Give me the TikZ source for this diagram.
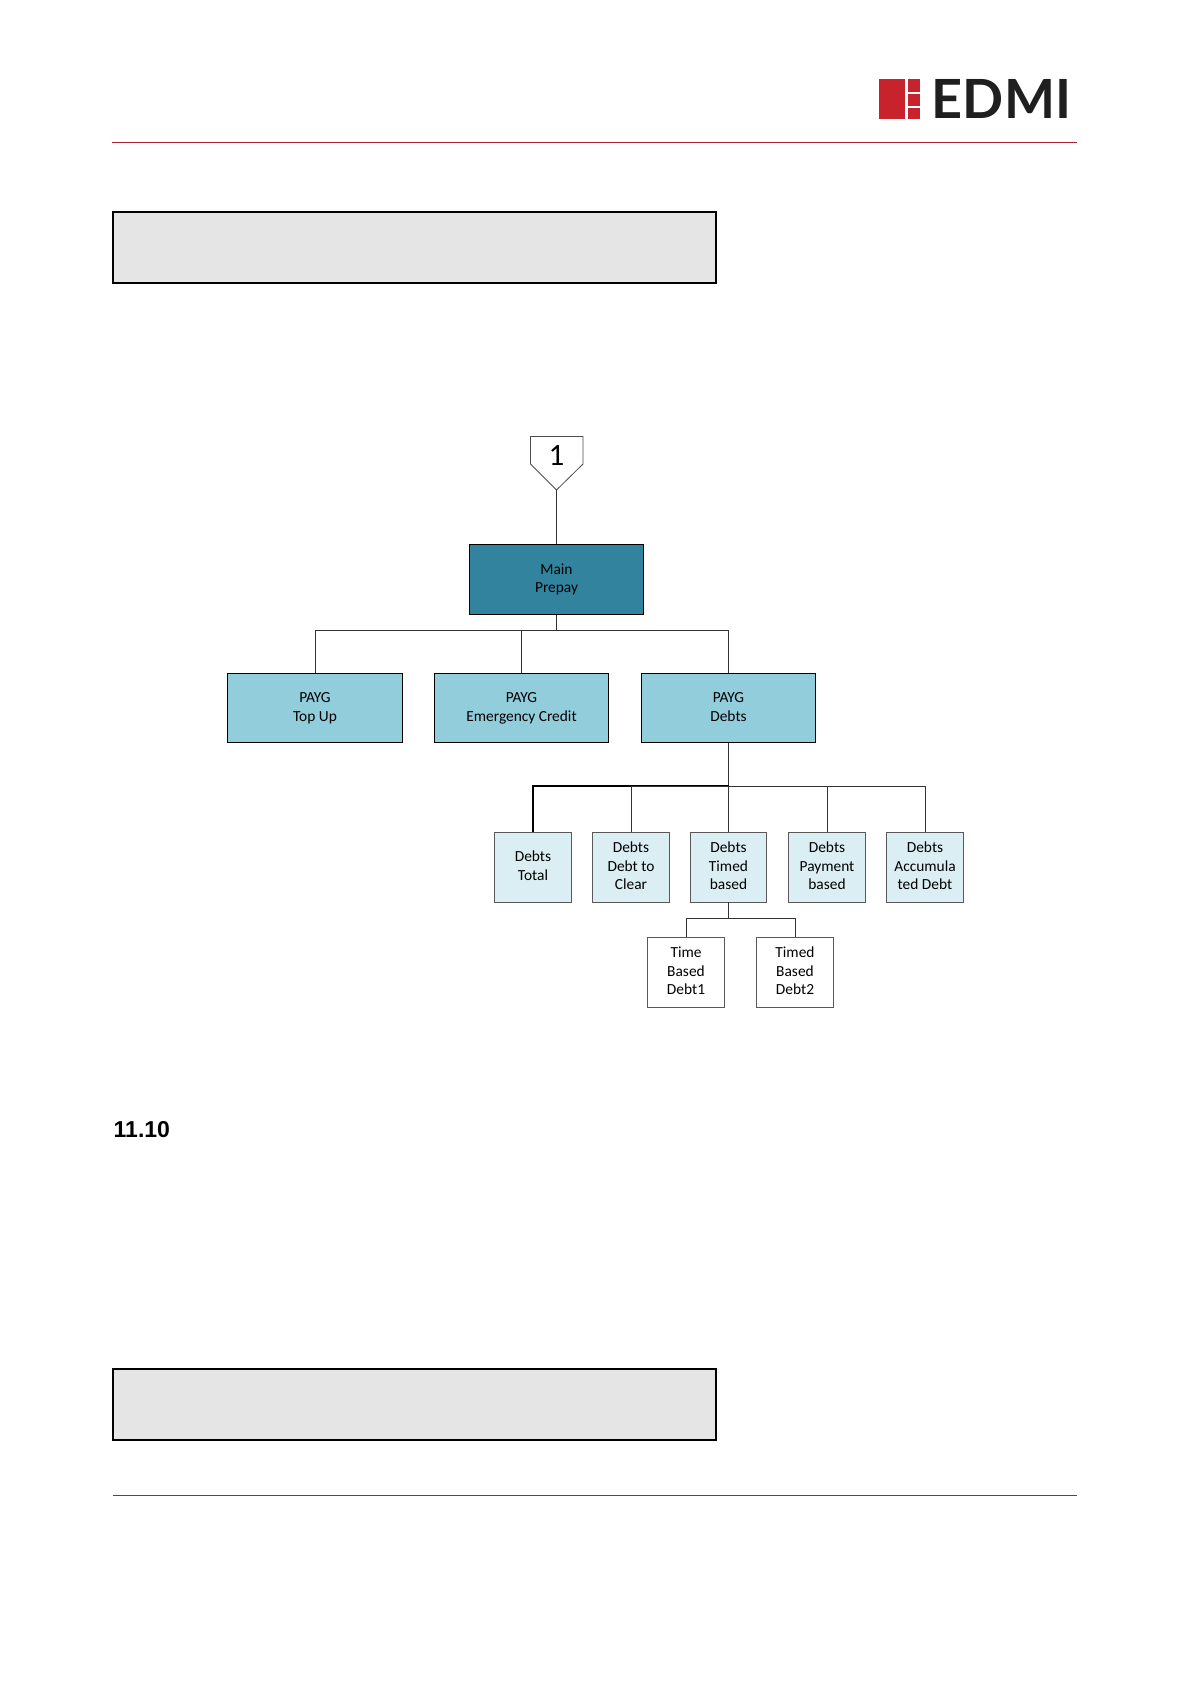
\documentclass[tikz,border=0pt]{standalone}
\usepackage{fontspec}
\setmainfont{Carlito}
\newfontfamily\logofont{Lato}
\newfontfamily\headfont{Liberation Sans}
\definecolor{mainblue}{HTML}{31839E}
\definecolor{paygblue}{HTML}{92CDDC}
\definecolor{debtblue}{HTML}{DAEEF3}
\definecolor{notegray}{HTML}{E5E5E5}
\definecolor{logored}{HTML}{C8232C}
\definecolor{rulered}{HTML}{A3242C}
\tikzset{
    boxtext/.style={inner sep=0pt, align=center, font=\fontsize{15.4}{18.8}\selectfont, execute at begin node=\rule{0pt}{15pt}, execute at end node=\vphantom{p}},
    bigbox/.style={boxtext, draw=black, line width=0.8pt, minimum width=174.5pt, minimum height=69.5pt},
    smallbox/.style={boxtext, draw=black!65, line width=0.9pt, minimum width=76.5pt, minimum height=70pt},
    notebox/.style={draw=black, fill=notegray, line width=1.1pt, minimum width=603pt, minimum height=71pt, inner sep=0pt},
    link/.style={draw=black!80, line width=1pt}
}
\begin{document}
\begin{tikzpicture}[x=1pt, y=-1pt]
    \useasboundingbox (0,0) rectangle (1191,1684);
    % Page header and footer
    \fill[logored] (879,79) rectangle (905,119);
    \fill[logored] (907.5,79) rectangle (920,91.5);
    \fill[logored] (907.5,93.5) rectangle (920,105.5);
    \fill[logored] (907.5,107.5) rectangle (920,119);
    \node[inner sep=0pt, text=black!88, font=\logofont\bfseries\fontsize{54}{54}\selectfont] (logotext) at (1001.5,99) {EDMI};
    \draw[rulered, line width=1pt] (112,142) -- (1077,142);
    \draw[rulered, line width=1pt] (113,1495) -- (1077,1495);

    \node[notebox] (topnote) at (414.5,247.5) {};
    \node[notebox] (bottomnote) at (414.5,1404.5) {};
    \node[anchor=base west, inner sep=0pt, font=\headfont\bfseries\fontsize{23}{24}\selectfont] (heading) at (113.5,1137) {11.10};

    % Off-page marker
    \draw[black!70, line width=0.8pt, fill=white] (530.5,436.5) -- (583,436.5) -- (583,464) -- (556.5,490) -- (530.5,464) -- cycle;
    \node[inner sep=0pt, font=\fontsize{31}{31}\selectfont] (marker) at (556.5,456) {1};
    \coordinate (markertip) at (556.5,490);

    % Boxes
    \node[bigbox, fill=mainblue] (main) at (556.5,579.5) {Main\\Prepay};
    \node[bigbox, fill=paygblue] (topup) at (315,708) {PAYG\\Top Up};
    \node[bigbox, fill=paygblue] (emergency) at (521.5,708) {PAYG\\Emergency Credit};
    \node[bigbox, fill=paygblue] (debts) at (728.5,708) {PAYG\\Debts};

    \node[smallbox, fill=debtblue] (total) at (533,867) {Debts\\Total};
    \node[smallbox, fill=debtblue] (clear) at (631,867) {Debts\\Debt to\\Clear};
    \node[smallbox, fill=debtblue] (timed) at (728.5,867) {Debts\\Timed\\based};
    \node[smallbox, fill=debtblue] (payment) at (827,867) {Debts\\Payment\\based};
    \node[smallbox, fill=debtblue] (accum) at (925,867) {Debts\\Accumula\\ted Debt};

    \node[smallbox, fill=white] (timeone) at (686,972) {Time\\Based\\Debt1};
    \node[smallbox, fill=white] (timetwo) at (795,972) {Timed\\Based\\Debt2};

    % Connectors
    \coordinate (busmain) at (556.5,630);
    \coordinate (busdebts) at (728.5,786);
    \coordinate (bustimed) at (728.5,918.5);
    \draw[link] (markertip) -- (main.north);
    \draw[link] (main.south) -- (busmain);
    \draw[link] (busmain) -| (topup.north);
    \draw[link] (busmain) -| (emergency.north);
    \draw[link] (busmain) -| (debts.north);
    \draw[link] (debts.south) -- (busdebts);
    \draw[link, black, line width=1.3pt] (busdebts) -| (total.north);
    \draw[link] (busdebts) -| (clear.north);
    \draw[link] (busdebts) -- (timed.north);
    \draw[link] (busdebts) -| (payment.north);
    \draw[link] (busdebts) -| (accum.north);
    \draw[link] (timed.south) -- (bustimed);
    \draw[link] (bustimed) -| (timeone.north);
    \draw[link] (bustimed) -| (timetwo.north);
\end{tikzpicture}
\end{document}
